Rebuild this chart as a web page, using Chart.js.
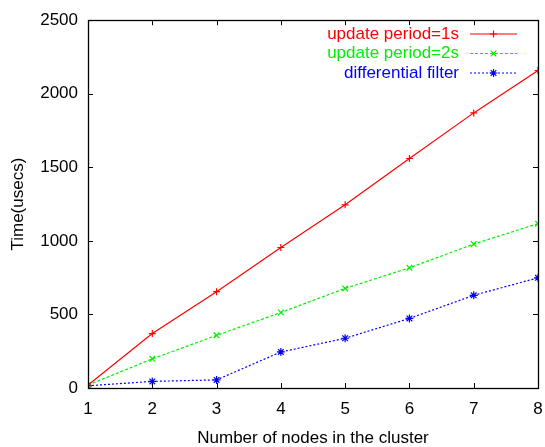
<!DOCTYPE html>
<html>
<head>
<meta charset="utf-8">
<script src="https://cdn.jsdelivr.net/npm/chart.js@4"></script>
<style>
html,body{margin:0;padding:0;background:#fff;}
#wrap{width:545px;height:447px;}
</style>
</head>
<body>
<div id="wrap"><canvas id="c" width="545" height="447"></canvas></div>
<script>
const nodes = [1, 2, 3, 4, 5, 6, 7, 8];
const period1s = [20, 370, 655, 955, 1245, 1560, 1870, 2158];
const period2s = [20, 198, 358, 513, 677, 817, 978, 1117];
const diffFilter = [15, 45, 55, 245, 338, 473, 630, 749];
const yTicks = [0, 500, 1000, 1500, 2000, 2500];
const seriesLabels = ['update period=1s', 'update period=2s', 'differential filter'];

const FONT = '"Liberation Sans", Arial, sans-serif';

function pts(arr){ return nodes.map((n,i)=>({x:n, y:arr[i]})); }

const frameTicks = {
  id: 'frameTicks',
  afterDraw(chart){
    const {ctx, chartArea:a, scales:{x, y}} = chart;
    ctx.save();
    ctx.strokeStyle = '#000';
    ctx.lineWidth = 1;
    const L = 5;
    ctx.beginPath();
    nodes.forEach(n=>{
      const px = Math.round(x.getPixelForValue(n)) + 0.5;
      ctx.moveTo(px, a.bottom); ctx.lineTo(px, a.bottom - L);
      ctx.moveTo(px, a.top); ctx.lineTo(px, a.top + L);
    });
    yTicks.forEach(v=>{
      const py = Math.round(y.getPixelForValue(v)) + 0.5;
      ctx.moveTo(a.left, py); ctx.lineTo(a.left + L, py);
      ctx.moveTo(a.right, py); ctx.lineTo(a.right - L, py);
    });
    ctx.stroke();
    ctx.lineWidth = 1.3;
    ctx.strokeRect(Math.round(a.left)+0.5, Math.round(a.top)+0.5, Math.round(a.right-a.left), Math.round(a.bottom-a.top));
    // legend
    const textRight = 459, x0 = 470, x1 = 517, rowY = [34, 53.5, 73];
    ctx.font = '17px ' + FONT;
    ctx.textAlign = 'right';
    ctx.textBaseline = 'middle';
    chart.data.datasets.forEach((ds, i)=>{
      const yy = rowY[i];
      ctx.fillStyle = ds.borderColor;
      ctx.fillText(ds.label, textRight, yy);
      ctx.strokeStyle = ds.borderColor;
      ctx.lineWidth = ds.borderWidth;
      ctx.setLineDash(ds.borderDash || []);
      ctx.beginPath(); ctx.moveTo(x0, yy); ctx.lineTo(x1, yy); ctx.stroke();
      ctx.setLineDash([]);
      Chart.helpers.drawPoint(ctx, {pointStyle: ds.pointStyle, radius: ds.pointRadius, borderWidth: 1.2, rotation: 0}, (x0+x1)/2, yy);
    });
    ctx.restore();
  }
};

new Chart(document.getElementById('c'), {
  type: 'line',
  data: {
    datasets: [
      {label: seriesLabels[0], data: pts(period1s), borderColor: '#ff0000', backgroundColor: '#ff0000', borderWidth: 1.2, pointStyle: 'cross', pointRadius: 3.5, pointBorderWidth: 1.2, fill: false, tension: 0},
      {label: seriesLabels[1], data: pts(period2s), borderColor: '#00f000', backgroundColor: '#00f000', borderWidth: 1.2, borderDash: [3, 2], pointStyle: 'crossRot', pointRadius: 4, pointBorderWidth: 1.2, fill: false, tension: 0},
      {label: seriesLabels[2], data: pts(diffFilter), borderColor: '#0000ff', backgroundColor: '#0000ff', borderWidth: 1.2, borderDash: [2, 2], pointStyle: 'star', pointRadius: 4, pointBorderWidth: 1.2, fill: false, tension: 0}
    ]
  },
  options: {
    responsive: false,
    animation: false,
    devicePixelRatio: 1,
    layout: {padding: {left: 0, right: 0, top: 18, bottom: 0}},
    plugins: {legend: {display: false}, tooltip: {enabled: false}},
    scales: {
      x: {
        type: 'linear', min: 1, max: 8,
        ticks: {stepSize: 1, color: '#000', font: {family: FONT, size: 17}, padding: 11, maxRotation: 0},
        grid: {display: false, drawTicks: false},
        border: {display: false},
        title: {display: true, text: 'Number of nodes in the cluster', color: '#000', font: {family: FONT, size: 17, lineHeight: 1}, padding: {top: 0, bottom: 0}},
        afterFit(s){ s.height = 59; s.paddingRight = 7; s.paddingLeft = 0; }
      },
      y: {
        min: 0, max: 2500,
        afterBuildTicks(s){ s.ticks = yTicks.map(v=>({value: v})); },
        ticks: {color: '#000', font: {family: FONT, size: 17}, padding: 10, callback: v => String(v)},
        grid: {display: false, drawTicks: false},
        border: {display: false},
        title: {display: true, text: 'Time(usecs)', color: '#000', font: {family: FONT, size: 17, lineHeight: 1.2}, padding: {top: 8, bottom: 0}},
        afterFit(s){ s.width = 88; }
      }
    }
  },
  plugins: [frameTicks]
});
</script>
</body>
</html>
